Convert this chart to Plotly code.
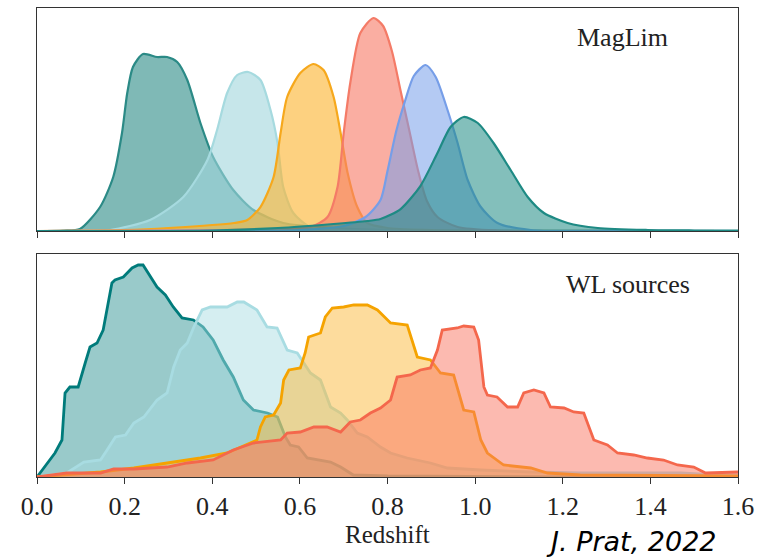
import plotly.graph_objects as go
from plotly.subplots import make_subplots

# ---------------- data (arbitrary n(z) units) ----------------
# MagLim lens bins (top panel)
ml1_z = [0, 0.06, 0.098, 0.144, 0.174, 0.194, 0.206, 0.219, 0.242, 0.274, 0.297, 0.32, 0.343, 0.373, 0.402, 0.448, 0.494, 0.562, 0.677, 0.8, 0.95, 1.6]
ml1_n = [0, 0.5, 2, 24, 54, 98, 138, 164, 177, 174, 174, 169, 151, 108, 74, 41, 21, 8, 3, 1, 0.3, 0]

ml2_z = [0, 0.12, 0.167, 0.258, 0.334, 0.389, 0.411, 0.434, 0.457, 0.482, 0.51, 0.533, 0.549, 0.562, 0.585, 0.624, 0.7, 0.8, 1.6]
ml2_n = [0, 0.3, 1, 11, 34, 71, 101, 138, 156, 159, 151, 121, 88, 44, 18, 4, 1, 0.3, 0]

ml3_z = [0, 0.2, 0.3, 0.45, 0.48, 0.51, 0.54, 0.556, 0.571, 0.601, 0.631, 0.654, 0.677, 0.693, 0.709, 0.731, 0.754, 0.8, 0.9, 1.0, 1.6]
ml3_n = [0, 1, 3, 8, 11, 24, 54, 98, 134, 158, 167, 161, 134, 98, 58, 24, 8, 3, 1, 0.3, 0]

ml4_z = [0, 0.3, 0.55, 0.624, 0.663, 0.686, 0.70, 0.715, 0.738, 0.768, 0.79, 0.81, 0.83, 0.85, 0.87, 0.89, 0.914, 0.96, 1.05, 1.6]
ml4_n = [0, 0.5, 2, 4, 14, 44, 98, 148, 198, 213, 205, 180, 140, 100, 60, 30, 14, 4, 0.5, 0]

ml5_z = [0, 0.5, 0.6, 0.7, 0.75, 0.784, 0.80, 0.82, 0.84, 0.86, 0.887, 0.91, 0.937, 0.96, 0.983, 1.013, 1.051, 1.127, 1.3, 1.6]
ml5_n = [0, 0.3, 1, 5, 14, 31, 60, 100, 130, 155, 166, 154, 121, 88, 51, 24, 8, 1, 0.3, 0]

ml6_z = [0, 0.4, 0.55, 0.677, 0.754, 0.784, 0.83, 0.875, 0.914, 0.944, 0.974, 1.006, 1.042, 1.081, 1.12, 1.157, 1.211, 1.28, 1.394, 1.5, 1.6]
ml6_n = [0, 0.5, 3, 7, 10, 12, 22, 45, 78, 104, 114, 108, 88, 61, 34, 18, 8, 3, 1, 0.5, 0.3]

# Weak-lensing source bins (bottom panel)
wl1_z = [0, 0.041, 0.057, 0.064, 0.075, 0.094, 0.11, 0.121, 0.137, 0.151, 0.171, 0.178, 0.197, 0.217, 0.231, 0.242, 0.274, 0.293, 0.311, 0.331, 0.357, 0.379, 0.402, 0.425, 0.448, 0.471, 0.494, 0.526, 0.549, 0.567, 0.578, 0.597, 0.617, 0.64, 0.67, 0.693, 0.722, 0.8, 1.0, 1.2, 1.6]
wl1_n = [0, 24, 37, 84, 90, 90, 114, 130, 134, 147, 194, 197, 200, 209, 212, 212, 190, 182, 170, 159, 157, 150, 137, 117, 100, 77, 67, 64, 60, 40, 32, 30, 19, 17, 15, 10, 2, 1, 0.5, 0, 0]

wl2_z = [0, 0.068, 0.107, 0.145, 0.16, 0.179, 0.202, 0.221, 0.244, 0.274, 0.297, 0.312, 0.327, 0.343, 0.358, 0.377, 0.396, 0.434, 0.457, 0.472, 0.502, 0.525, 0.548, 0.571, 0.594, 0.609, 0.624, 0.647, 0.67, 0.693, 0.708, 0.731, 0.754, 0.784, 0.807, 0.845, 0.898, 0.937, 1.013, 1.127, 1.24, 1.47, 1.55, 1.6]
wl2_n = [0, 4, 15, 17, 27, 40, 42, 54, 60, 77, 84, 110, 127, 134, 150, 167, 170, 170, 175, 175, 167, 150, 149, 127, 124, 114, 104, 97, 70, 64, 57, 44, 40, 30, 24, 19, 14, 9, 7, 5, 4, 4, 2, 2]

wl3_z = [0, 0.068, 0.145, 0.221, 0.297, 0.373, 0.434, 0.464, 0.487, 0.502, 0.51, 0.521, 0.54, 0.556, 0.563, 0.575, 0.601, 0.612, 0.62, 0.647, 0.658, 0.674, 0.7, 0.723, 0.754, 0.777, 0.807, 0.845, 0.868, 0.898, 0.921, 0.951, 0.974, 0.997, 1.013, 1.028, 1.065, 1.127, 1.165, 1.24, 1.6]
wl3_n = [0, 2, 5, 9, 14, 19, 24, 30, 34, 37, 50, 60, 62, 74, 97, 107, 109, 124, 140, 144, 160, 169, 170, 172, 172, 167, 154, 152, 120, 117, 104, 102, 67, 65, 37, 24, 12, 9, 4, 2, 1]

wl4_z = [0, 0.068, 0.145, 0.175, 0.221, 0.297, 0.343, 0.402, 0.448, 0.494, 0.556, 0.571, 0.601, 0.632, 0.662, 0.693, 0.715, 0.738, 0.761, 0.784, 0.807, 0.822, 0.852, 0.875, 0.898, 0.914, 0.925, 0.959, 0.974, 0.997, 1.008, 1.02, 1.028, 1.05, 1.074, 1.097, 1.111, 1.134, 1.157, 1.172, 1.203, 1.225, 1.248, 1.271, 1.302, 1.325, 1.362, 1.393, 1.43, 1.462, 1.499, 1.526, 1.6]
wl4_n = [0, 4, 4, 8, 8, 10, 14, 17, 27, 34, 37, 44, 45, 50, 50, 45, 55, 57, 64, 69, 77, 100, 102, 107, 109, 127, 147, 149, 151, 150, 137, 90, 82, 80, 70, 70, 84, 87, 84, 70, 69, 65, 64, 37, 32, 24, 22, 19, 17, 12, 10, 4, 5]

x_ticks = [0.0, 0.2, 0.4, 0.6, 0.8, 1.0, 1.2, 1.4, 1.6]
x_tick_text = ["0.0", "0.2", "0.4", "0.6", "0.8", "1.0", "1.2", "1.4", "1.6"]

# ---------------- styling ----------------
top_series = [
    (ml1_z, ml1_n, "#2b8a86", "rgba(42,138,134,0.60)"),
    (ml2_z, ml2_n, "#a6dadf", "rgba(160,214,220,0.60)"),
    (ml3_z, ml3_n, "#f6a81c", "rgba(252,180,50,0.62)"),
    (ml4_z, ml4_n, "#f47b67", "rgba(247,125,105,0.62)"),
    (ml5_z, ml5_n, "#769ee8", "rgba(118,158,234,0.55)"),
    (ml6_z, ml6_n, "#1e8a84", "rgba(30,138,132,0.55)"),
]
bottom_series = [
    (wl1_z, wl1_n, "#007b7b", "rgba(0,123,123,0.40)"),
    (wl2_z, wl2_n, "#a8dce2", "rgba(168,220,226,0.48)"),
    (wl3_z, wl3_n, "#f5a300", "rgba(252,185,60,0.50)"),
    (wl4_z, wl4_n, "#f4674c", "rgba(250,118,98,0.50)"),
]

fig = make_subplots(rows=2, cols=1, shared_xaxes=False, vertical_spacing=0.0)

for z, n, lc, fc in top_series:
    fig.add_trace(go.Scatter(x=z, y=n, mode="lines", fill="tozeroy", fillcolor=fc,
                             line=dict(color=lc, width=2.2, shape="spline", smoothing=0.7),
                             hoverinfo="skip", showlegend=False), row=1, col=1)
for z, n, lc, fc in bottom_series:
    fig.add_trace(go.Scatter(x=z, y=n, mode="lines", fill="tozeroy", fillcolor=fc,
                             line=dict(color=lc, width=2.8, shape="linear"),
                             hoverinfo="skip", showlegend=False), row=2, col=1)

axis_common = dict(range=[0, 1.6], showline=True, linecolor="#333333", linewidth=1.2,
                   mirror=True, showgrid=False, zeroline=False, ticks="outside",
                   ticklen=6, tickwidth=1.2, tickcolor="#333333",
                   tickvals=x_ticks, ticktext=x_tick_text)
fig.update_layout(
    width=774, height=559,
    margin=dict(l=37, r=36, t=8, b=82),
    paper_bgcolor="white", plot_bgcolor="white",
    font=dict(family="Liberation Serif", size=26, color="#222222"),
    xaxis=dict(domain=[0, 1], anchor="y", showticklabels=False, **axis_common),
    xaxis2=dict(domain=[0, 1], anchor="y2", showticklabels=True,
                tickfont=dict(family="Liberation Serif", size=26, color="#222222"), **axis_common),
    yaxis=dict(domain=[0.5245, 1], range=[0, 223], showline=True, linecolor="#333333",
               linewidth=1.2, mirror=True, showgrid=False, zeroline=False, showticklabels=False, ticks=""),
    yaxis2=dict(domain=[0, 0.4755], range=[0, 223], showline=True, linecolor="#333333",
                linewidth=1.2, mirror=True, showgrid=False, zeroline=False, showticklabels=False, ticks=""),
    annotations=[
        dict(text="MagLim", x=1.336, y=194, xref="x", yref="y", showarrow=False,
             font=dict(family="Liberation Serif", size=26, color="#222222"), xanchor="center", yanchor="middle"),
        dict(text="WL sources", x=1.35, y=192, xref="x2", yref="y2", showarrow=False,
             font=dict(family="Liberation Serif", size=26, color="#222222"), xanchor="center", yanchor="middle"),
        dict(text="Redshift", x=0.5, y=(477 - 534) / 469, xref="paper", yref="paper", showarrow=False,
             font=dict(family="Liberation Serif", size=25, color="#222222"), xanchor="center", yanchor="middle"),
        dict(text="<i>J. Prat, 2022</i>", x=(631 - 37) / 701, y=(477 - 559) / 469, xref="paper", yref="paper",
             showarrow=False, font=dict(family="DejaVu Sans", size=27, color="#000000"),
             xanchor="center", yanchor="bottom"),
    ],
)

fig.write_html("out.html")
